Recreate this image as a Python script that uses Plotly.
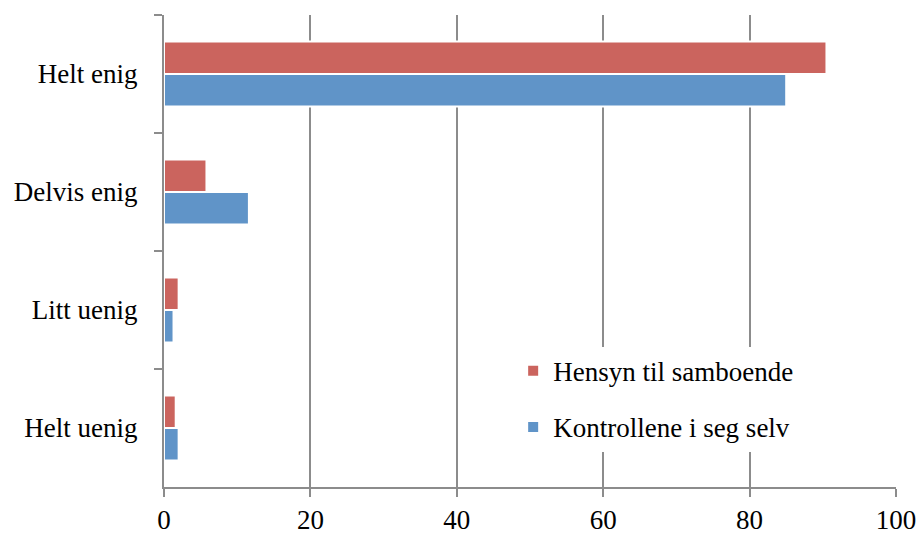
import plotly.graph_objects as go

categories = ["Helt enig", "Delvis enig", "Litt uenig", "Helt uenig"]
hensyn = [90.5, 5.8, 2.0, 1.6]
kontroll = [85.0, 11.6, 1.3, 2.0]
series_names = ["Hensyn til samboende", "Kontrollene i seg selv"]
x_ticks = [0, 20, 40, 60, 80, 100]

RED = "#CB645E"
BLUE = "#6094C8"
GRID = "#8C8C8C"
FONT = dict(family="Liberation Serif", size=27, color="black")

fig = go.Figure()
fig.add_trace(go.Bar(y=categories, x=hensyn, orientation="h", name=series_names[0],
                     marker=dict(color=RED, line=dict(color="white", width=2)),
                     legendgroup="a"))
fig.add_trace(go.Bar(y=categories, x=kontroll, orientation="h", name=series_names[1],
                     marker=dict(color=BLUE, line=dict(color="white", width=2)),
                     legendgroup="b"))

fig.update_layout(
    width=920, height=535,
    margin=dict(l=164, r=24, t=15, b=48, autoexpand=False),
    paper_bgcolor="white", plot_bgcolor="white",
    font=FONT,
    barmode="group", bargap=0.45, bargroupgap=0,
    legend=dict(x=0.477, y=0.297, xanchor="left", yanchor="top",
                bgcolor="white", font=FONT, traceorder="grouped",
                tracegroupgap=18, itemwidth=30),
    xaxis=dict(range=[0, 100], tickvals=x_ticks, ticktext=[str(v) for v in x_ticks],
               showgrid=True, gridcolor=GRID, gridwidth=1.5,
               showline=True, linecolor=GRID, linewidth=2,
               ticks="outside", ticklen=8, tickcolor=GRID, tickwidth=2,
               zeroline=False, fixedrange=True, automargin=False),
    yaxis=dict(autorange="reversed", showgrid=False,
               showline=True, linecolor=GRID, linewidth=2,
               ticks="outside", tickson="boundaries", ticklen=8,
               tickcolor=GRID, tickwidth=2, ticklabelstandoff=19,
               zeroline=False, fixedrange=True, automargin=False),
)

fig.write_html("out.html", config={"displayModeBar": False},
               post_script="document.body.style.margin='0';document.body.style.padding='0';")
